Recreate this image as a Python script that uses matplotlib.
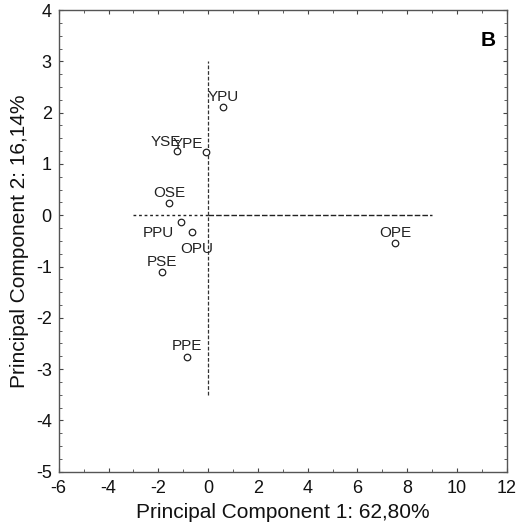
import matplotlib
matplotlib.use("Agg")
import matplotlib.pyplot as plt
from matplotlib.ticker import MultipleLocator

plt.rcParams["font.family"] = ["Liberation Sans", "DejaVu Sans"]
plt.rcParams["axes.unicode_minus"] = False

# PCA scores
names = ["YPU", "YSE", "YPE", "OSE", "PPU", "OPU", "PSE", "PPE", "OPE"]
pc1 = [0.61, -1.24, -0.08, -1.55, -1.10, -0.64, -1.87, -0.86, 7.51]
pc2 = [2.11, 1.25, 1.23, 0.24, -0.13, -0.33, -1.10, -2.76, -0.54]

# label offsets in points (some labels were nudged in the original)
offsets = [(0, 4), (-8, 4), (-13, 3), (0, 4), (-16, -11), (3, -15), (0, 4), (0, 5), (0, 4)]

fig = plt.figure(figsize=(5.29, 5.30), dpi=100)
ax = fig.add_axes([0.111, 0.110, 0.847, 0.871])

# reference axes through the origin
ax.plot([-3, 0], [0, 0], color="#222222", lw=1, dashes=(2, 2))
ax.plot([0, 9], [0, 0], color="#222222", lw=1, dashes=(4, 1.5))
ax.plot([0, 0], [-3.5, 3], color="#333333", lw=0.9, dashes=(3, 1.5))

ax.scatter(pc1, pc2, s=22, facecolors="white", edgecolors="#222222", linewidths=0.9, zorder=3)
for n, x, y, off in zip(names, pc1, pc2, offsets):
    ax.annotate(n, (x, y), xytext=off, textcoords="offset points",
                ha="center", va="baseline", fontsize=11, color="#222222")

ax.text(0.975, 0.955, "B", transform=ax.transAxes, ha="right", va="top",
        fontsize=15, fontweight="bold")

ax.set_xlim(-6, 12)
ax.set_ylim(-5, 4)
ax.xaxis.set_major_locator(MultipleLocator(2))
ax.xaxis.set_minor_locator(MultipleLocator(1))
ax.yaxis.set_major_locator(MultipleLocator(1))
ax.yaxis.set_minor_locator(MultipleLocator(0.25))
ax.tick_params(which="both", direction="in", top=True, right=True,
               labelsize=13, colors="#444444", labelcolor="#111111")
ax.tick_params(which="major", length=3)
ax.tick_params(which="minor", length=2)
ax.tick_params(axis="x", which="major", pad=6)
ax.tick_params(axis="y", which="major", pad=5)
for s in ax.spines.values():
    s.set_color("#555555")
    s.set_linewidth(1)

ax.set_xlabel("Principal Component 1: 62,80%", fontsize=15, labelpad=4, color="#111111")
ax.set_ylabel("Principal Component 2: 16,14%", fontsize=15, labelpad=5, color="#111111")

fig.savefig("out.png", dpi=100)
